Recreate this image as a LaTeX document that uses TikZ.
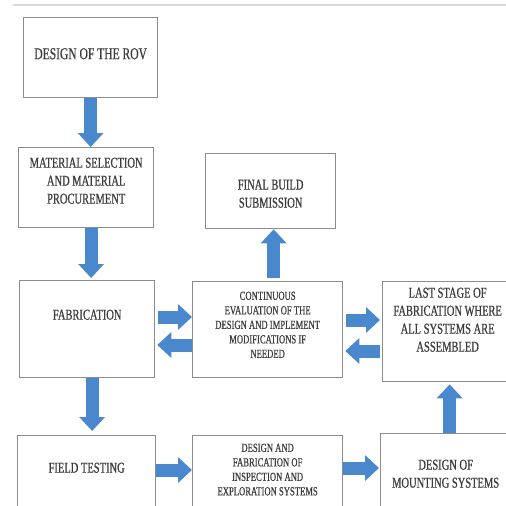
\documentclass[tikz,border=0pt]{standalone}
\usepackage{fontspec}
\setmainfont[FakeStretch=0.7,FakeBold=0.6]{Liberation Serif}
\usetikzlibrary{arrows.meta,positioning}
\definecolor{flowblue}{RGB}{74,136,206}
\definecolor{boxgray}{RGB}{140,140,140}
\definecolor{textgray}{RGB}{60,60,60}
\tikzset{
		% stage boxes, their texts and the wide blue arrows
		stage box/.style={rectangle,draw=boxgray,line width=1.3pt,fill=white,inner sep=0,anchor=north west},
		stage text/.style={anchor=north,align=center,text=textgray,inner sep=0,font=\fontsize{15}{18}\selectfont},
		small text/.style={stage text,font=\fontsize{12.3}{14.5}\selectfont},
		flow arrow/.style={draw=flowblue,line width=13pt,-{Triangle[width=25pt,length=14pt]}}
	}
\begin{document}
\begin{tikzpicture}[x=1pt,y=-1pt]
		\clip (0,0) rectangle (506,506);
		\fill[white] (0,0) rectangle (506,506);
		\draw[line width=2pt,black!15] (13,5) -- (506,5);
		% left column
		\node[stage box,minimum width=134pt,minimum height=80pt,
			label={[stage text,font=\fontsize{16.5}{18}\selectfont,yshift=-31pt]north:DESIGN OF THE ROV}] (rov) at (23,17) {};
		\node[stage box,minimum width=135pt,minimum height=80pt,
			label={[stage text,yshift=-10.5pt]north:{MATERIAL SELECTION\\AND MATERIAL\\PROCUREMENT}}] (mat) at (18,147) {};
		\node[stage box,minimum width=135pt,minimum height=97pt,
			label={[stage text,yshift=-29.5pt]north:FABRICATION}] (fab) at (19,280) {};
		\node[stage box,minimum width=138pt,minimum height=90pt,
			label={[stage text,yshift=-27.5pt]north:FIELD TESTING}] (field) at (17,435) {};
		% middle column
		\node[stage box,minimum width=130pt,minimum height=75pt,
			label={[stage text,yshift=-26.5pt]north:{FINAL BUILD\\SUBMISSION}}] (final) at (205,153) {};
		\node[stage box,minimum width=150pt,minimum height=96pt,
			label={[small text,yshift=-10.5pt]north:{CONTINUOUS\\EVALUATION OF THE\\DESIGN AND IMPLEMENT\\MODIFICATIONS IF\\NEEDED}}] (cont) at (192,281) {};
		\node[stage box,minimum width=150pt,minimum height=90pt,
			label={[small text,yshift=-8.5pt]north:{DESIGN AND\\FABRICATION OF\\INSPECTION AND\\EXPLORATION SYSTEMS}}] (insp) at (192,435) {};
		% right column
		\node[stage box,minimum width=130pt,minimum height=100pt,
			label={[stage text,yshift=-6.5pt]north:{LAST STAGE OF\\FABRICATION WHERE\\ALL SYSTEMS ARE\\ASSEMBLED}}] (last) at (382,281) {};
		\node[stage box,minimum width=130pt,minimum height=90pt,
			label={[stage text,yshift=-26.5pt]north:{DESIGN OF\\MOUNTING SYSTEMS}}] (mount) at (380,433) {};
		% arrows
		\draw[flow arrow] (rov.south) -- (rov.south |- mat.north);
		\draw[flow arrow,shorten >=2pt] ([xshift=5pt]mat.south) -- ([xshift=5pt]mat.south |- fab.north);
		\draw[flow arrow,shorten >=4pt] ([xshift=5pt]fab.south) -- ([xshift=5pt]fab.south |- field.north);
		\draw[flow arrow,shorten <=3pt] ([xshift=6pt]cont.north) -- ([xshift=6pt]cont.north |- final.south);
		\draw[flow arrow,shorten <=3pt] ([yshift=-37pt]fab.north east) -- ([yshift=-37pt]fab.north east -| cont.west);
		\draw[flow arrow,shorten >=2pt] ([yshift=-65pt]fab.north east -| cont.west) -- ([yshift=-65pt]fab.north east);
		\draw[flow arrow,shorten <=3pt,shorten >=2pt] ([yshift=-39pt]cont.north east) -- ([yshift=-39pt]cont.north east -| last.west);
		\draw[flow arrow,shorten <=2pt,shorten >=2pt] ([yshift=-70pt]cont.north east -| last.west) -- ([yshift=-70pt]cont.north east);
		\draw[flow arrow,shorten >=2pt] ([xshift=4pt]mount.north) -- ([xshift=4pt]mount.north |- last.south);
		\draw[flow arrow] ([yshift=-35pt]field.north east) -- ([yshift=-35pt]field.north east -| insp.west);
		\draw[flow arrow,shorten >=1pt] ([yshift=-33pt]insp.north east) -- ([yshift=-33pt]insp.north east -| mount.west);
	\end{tikzpicture}
\end{document}
